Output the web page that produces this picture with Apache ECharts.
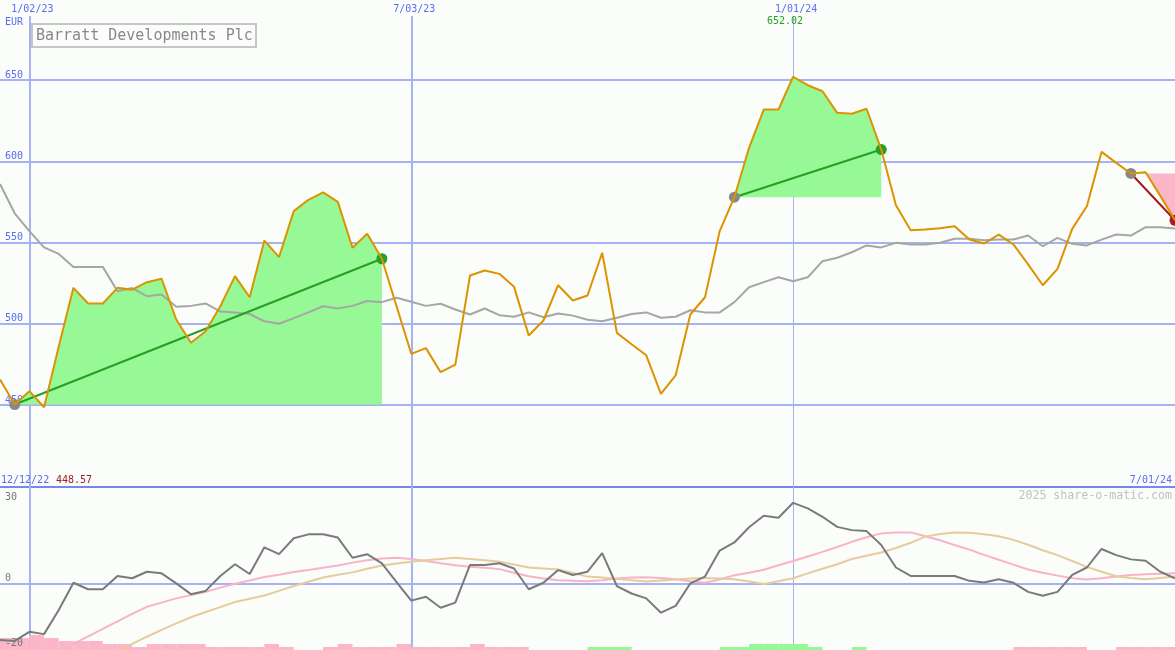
<!DOCTYPE html>
<html><head><meta charset="utf-8">
<script src="https://cdn.jsdelivr.net/npm/echarts@6/dist/echarts.min.js"></script>
<style>html,body{margin:0;padding:0;background:#fafdfa}#c{width:1175px;height:650px}</style>
</head><body><div id="c"></div>
<script>
// ---------- data ----------
const firstWeek = [2022, 11, 19];           // first weekly point (Mon 19 Dec 2022)
const weekCount = 81;
const tickWeeks = [2, 28];                    // 1/02/23, 7/03/23
const yearWeek = [54];                        // 1/01/24
const labelWeeks = [2, 28, 54];

const price = [465.7, 450.3, 458.5, 448.6, 486, 522.1, 512.5, 512.5, 522.1, 521,
  525.6, 527.7, 502.6, 488.3, 495.4, 510.8, 529.3, 516.3, 551.2, 541,
  569.3, 576.3, 580.8, 575, 546.8, 555.4, 540, 510.8, 481.5, 485,
  470.2, 474.9, 529.7, 532.8, 530.7, 522.7, 492.8, 502, 523.7, 514.3,
  517.4, 543.7, 494.4, 487.4, 480.6, 456.9, 468.2, 505.7, 516.3, 557,
  577.9, 608.3, 631.8, 631.8, 652.0, 646.8, 643.1, 629.8, 629.2, 632.3,
  607.2, 572.9, 557.6, 558, 558.8, 560, 551.8, 549.4, 554.9, 548.8,
  536.5, 523.7, 533.8, 558.4, 572.3, 605.8, 599, 592.5, 593.3, 578.7, 563.7];

const average = [586, 568, 557, 547, 543, 535, 535, 535, 520, 522,
  517, 518, 510.5, 511, 512.5, 507.5, 507, 506, 501.5, 500,
  503.5, 507, 510.8, 509.4, 511, 514, 513.3, 516, 513.5, 511,
  512.3, 508.8, 505.7, 509.4, 505.3, 504.3, 507, 504, 506.3, 505,
  502.5, 501.6, 503.7, 506, 507, 503.7, 504.3, 508.3, 507, 507,
  513.3, 522.5, 525.6, 528.6, 526.2, 528.6, 538.5, 540.6, 544, 548.2,
  547, 549.8, 548.8, 548.8, 549.8, 552.3, 552.3, 551.4, 551.8, 551.8,
  554.3, 547.7, 552.9, 549.2, 548.2, 551.8, 554.9, 554.3, 559.4, 559.4, 558.6];

const momentum = [-17.3, -17.6, -14.8, -15.5, -8.1, 0.3, -1.7, -1.7, 2.4, 1.7,
  3.7, 3.2, 0.1, -3.2, -2.2, 2.4, 6.0, 3.0, 11.2, 9.1,
  14.0, 15.2, 15.2, 14.2, 8.0, 9.1, 6.3, 0.5, -5.2, -4.0,
  -7.4, -5.8, 5.8, 5.8, 6.3, 4.7, -1.7, 0.3, 4.2, 2.7,
  3.7, 9.4, -0.7, -3.0, -4.5, -8.9, -6.8, 0.1, 2.2, 10.2,
  12.7, 17.4, 20.9, 20.3, 24.9, 23.2, 20.6, 17.5, 16.5, 16.2,
  11.9, 5.0, 2.4, 2.4, 2.4, 2.4, 0.9, 0.4, 1.4, 0.3,
  -2.5, -3.7, -2.5, 2.7, 5.0, 10.7, 8.8, 7.5, 7.1, 3.7, 1.7];

const fastSignal = [null, null, null, null, -21, -18.5, -16.2, -13.9, -11.6, -9.3,
  -7.1, -5.8, -4.5, -3.5, -2.5, -1.2, 0, 1.0, 2.1, 2.8,
  3.6, 4.2, 4.9, 5.6, 6.5, 7.2, 7.8, 8.0, 7.6, 7.0,
  6.3, 5.7, 5.2, 4.9, 4.5, 3.4, 2.3, 1.6, 1.1, 0.9,
  0.8, 1.1, 1.6, 1.9, 2.0, 1.8, 1.4, 0.8, 0.3, 1.3,
  2.6, 3.4, 4.3, 5.7, 7.0, 8.4, 9.8, 11.3, 12.9, 14.3,
  15.5, 15.8, 15.8, 14.6, 13.4, 11.9, 10.5, 8.9, 7.4, 5.9,
  4.4, 3.4, 2.5, 1.7, 1.3, 1.7, 2.2, 2.7, 2.9, 3.1, 3.2];

const slowSignal = [null, null, null, null, null, null, null, null, -20.8, -18.5,
  -16.3, -14.2, -12.2, -10.3, -8.7, -7.2, -5.6, -4.6, -3.6, -2.2,
  -0.7, 0.6, 1.9, 2.8, 3.5, 4.6, 5.6, 6.2, 6.8, 7.2,
  7.6, 8.0, 7.6, 7.2, 6.8, 5.9, 5.0, 4.7, 4.4, 3.3,
  2.2, 1.9, 1.5, 1.1, 0.7, 1.0, 1.3, 1.6, 1.8, 1.6,
  1.4, 0.7, -0.1, 0.8, 1.7, 3.2, 4.6, 6.0, 7.6, 8.6,
  9.6, 11.0, 12.6, 14.5, 15.3, 15.8, 15.7, 15.2, 14.6, 13.5,
  12.0, 10.3, 8.8, 7.0, 5.2, 3.7, 2.3, 1.8, 1.4, 1.8, 2.2];

// weekly strength blocks (negative = pink, positive = green), one per week interval
const strength = [-4, -4, -5, -4, -3, -3, -3, -2, -2, -1,
  -2, -2, -2, -2, -1, -1, -1, -1, -2, -1,
  0, 0, -1, -2, -1, -1, -1, -2, -1, -1,
  -1, -1, -2, -1, -1, -1, 0, 0, 0, 0,
  1, 1, 1, 0, 0, 0, 0, 0, 0, 1,
  1, 2, 2, 2, 2, 1, 0, 0, 1, 0,
  0, 0, 0, 0, 0, 0, 0, 0, 0, -1,
  -1, -1, -1, -1, 0, 0, -1, -1, -1, -1];

const regionStart = [1, 50, 77];
const regionEnd = [26, 60, 80];

const firstDateLabel = '12/12/22';
const priceLow = '448.57';
const priceHigh = '652.02';

// ---------- build ----------
const weeks = [];
for (let i = 0; i < weekCount; i++) {
  const d = new Date(Date.UTC(firstWeek[0], firstWeek[1], firstWeek[2] + 7 * i));
  weeks.push((d.getUTCMonth() + 1) + '/' + String(d.getUTCDate()).padStart(2, '0') + '/' + String(d.getUTCFullYear()).slice(2));
}
const bands = weeks.slice(0, weekCount - 1);

const MONO = "'DejaVu Sans Mono', 'Liberation Mono', monospace";
const BLUE = '#5a6cf0';
const GRIDC = '#a6b2f2';
const SEP = '#7586ec';
const GREEN_FILL = '#96f996';
const PINK_FILL = '#fbb6c8';
const T = 'rgba(0,0,0,0)';

function renderRegion(params, api) {
  const k = params.dataIndex;
  const s = regionStart[k], e = regionEnd[k];
  const base = price[s];
  const baseY = api.coord([s, base])[1];
  const P = j => api.coord([j, price[j]]);
  const children = [];
  let top = [P(s)], startX = P(s)[0], sign = 0;
  const close = (endX) => {
    const pts = [[startX, baseY]].concat(top, [[endX, baseY]]);
    children.push({ type: 'polygon', shape: { points: pts },
      style: { fill: sign >= 0 ? GREEN_FILL : PINK_FILL } });
  };
  for (let j = s; j < e; j++) {
    const d0 = price[j] - base, d1 = price[j + 1] - base;
    const a = P(j), b = P(j + 1);
    if (sign === 0) sign = Math.sign(d1 !== 0 ? d1 : d0);
    if (d0 * d1 < 0) {
      const t = d0 / (d0 - d1);
      const c = [a[0] + t * (b[0] - a[0]), baseY];
      top.push(c);
      close(c[0]);
      startX = c[0]; top = [c]; sign = Math.sign(d1);
      top.push(b);
    } else {
      top.push(b);
    }
  }
  close(P(e)[0]);
  return { type: 'group', children };
}

const trendSeries = regionStart.map((s, k) => {
  const e = regionEnd[k];
  const win = price[e] >= price[s];
  return {
    type: 'line', xAxisIndex: 0, yAxisIndex: 0, z: 4, symbol: 'none', silent: true,
    data: [[s, price[s]], [e, price[e]]],
    lineStyle: { color: win ? '#24a024' : '#a01c1c', width: 2 }
  };
});

const txt = (size, color) => ({ fontFamily: MONO, fontSize: size, fontWeight: 'normal', color });

const option = {
  backgroundColor: '#fafdfa',
  animation: false,
  title: [
    { text: 'Barratt Developments Plc', left: 32, top: 24, padding: [5, 4, 3, 4],
      borderColor: '#c6c6c6', borderWidth: 2, backgroundColor: '#fafdfa',
      textStyle: txt(15, '#888') },
    { text: 'EUR', left: 5, top: 17, padding: 0, textStyle: txt(10, BLUE) },
    { text: priceHigh, left: 767, top: 16, padding: 0, textStyle: txt(10, '#22a022') },
    { text: firstDateLabel, left: 1, top: 475, padding: 0, textStyle: txt(10, BLUE) },
    { text: priceLow, left: 56, top: 475, padding: 0, textStyle: txt(10, '#a02020') },
    { text: weeks[weekCount - 1], right: 3, top: 475, padding: 0, textStyle: txt(10, BLUE) },
    { text: '2025 share-o-matic.com', right: 3, top: 490, padding: 0, textStyle: txt(11.6, '#c2c2c2') }
  ],
  grid: [
    { left: 0, right: 0, top: 16, height: 470.25 },
    { left: 0, right: 0, top: 486.25, height: 162.5 },
    { left: 0, right: 0, bottom: 0, height: 30 }
  ],
  xAxis: [
    { type: 'category', gridIndex: 0, data: weeks, boundaryGap: false, position: 'top',
      axisLine: { show: false }, axisTick: { show: false },
      axisLabel: { interval: (i) => labelWeeks.includes(i), margin: 2, color: BLUE,
        fontFamily: MONO, fontSize: 10, padding: [0, 0, 0, 6] },
      splitLine: { show: true, interval: (i) => tickWeeks.includes(i), lineStyle: { color: GRIDC, width: 2 } } },
    { type: 'category', gridIndex: 0, data: weeks, boundaryGap: false,
      axisLine: { show: false }, axisTick: { show: false }, axisLabel: { show: false },
      splitLine: { show: true, interval: (i) => yearWeek.includes(i), lineStyle: { color: GRIDC, width: 1 } } },
    { type: 'category', gridIndex: 1, data: weeks, boundaryGap: false,
      axisLine: { show: false }, axisTick: { show: false }, axisLabel: { show: false },
      splitLine: { show: true, interval: (i) => tickWeeks.includes(i), lineStyle: { color: GRIDC, width: 2 } } },
    { type: 'category', gridIndex: 1, data: weeks, boundaryGap: false,
      axisLine: { show: false }, axisTick: { show: false }, axisLabel: { show: false },
      splitLine: { show: true, interval: (i) => yearWeek.includes(i), lineStyle: { color: GRIDC, width: 1 } } },
    { type: 'category', gridIndex: 2, data: bands, boundaryGap: true, show: false }
  ],
  yAxis: [
    { type: 'value', gridIndex: 0, min: 400, max: 689.4, interval: 50, position: 'left',
      axisLine: { show: false }, axisTick: { show: false },
      axisLabel: { inside: true, margin: 5, verticalAlign: 'bottom', color: BLUE, fontFamily: MONO, fontSize: 10,
        formatter: (v) => (v <= 400 || v > 680) ? '' : String(v) },
      splitLine: { show: true, lineStyle: { width: 2, color: [SEP, GRIDC, GRIDC, GRIDC, GRIDC, GRIDC, T] } } },
    { type: 'value', gridIndex: 1, min: -20, max: 30, interval: 20, position: 'left',
      axisLine: { show: false }, axisTick: { show: false }, axisLabel: { show: false },
      splitLine: { show: true, lineStyle: { width: 2, color: [T, GRIDC, T, SEP] } } },
    { type: 'value', gridIndex: 1, min: -20, max: 30, interval: 20, position: 'left', offset: 0, z: 10,
      axisLine: { show: false }, axisTick: { show: false }, splitLine: { show: false },
      axisLabel: { inside: true, margin: 5, verticalAlign: 'bottom', color: '#777', fontFamily: MONO, fontSize: 10,
        formatter: (v) => (v === -20 || v === 0) ? String(v) : '' } },
    { type: 'value', gridIndex: 1, min: -20, max: 30, interval: 50, position: 'left', offset: 0, z: 10,
      axisLine: { show: false }, axisTick: { show: false }, splitLine: { show: false },
      axisLabel: { inside: true, margin: 5, verticalAlign: 'top', padding: [6, 0, 0, 0], color: '#777', fontFamily: MONO, fontSize: 10,
        formatter: (v) => v === 30 ? '30' : '' } },
    { type: 'value', gridIndex: 2, min: 0, max: 10, show: false }
  ],
  series: [
    { type: 'custom', xAxisIndex: 0, yAxisIndex: 0, z: 1, silent: true, clip: true,
      renderItem: renderRegion,
      data: regionStart.map((s, k) => [s, regionEnd[k], price[s]]),
      encode: { x: [0, 1], y: 2 } },
    { type: 'line', xAxisIndex: 0, yAxisIndex: 0, z: 2, symbol: 'none', silent: true,
      data: average, lineStyle: { color: '#a6a6a6', width: 2 } },
    ...trendSeries,
    { type: 'scatter', xAxisIndex: 0, yAxisIndex: 0, z: 5, symbolSize: 11, silent: true,
      data: regionStart.map(s => [s, price[s]]), itemStyle: { color: '#888', opacity: 1 } },
    { type: 'scatter', xAxisIndex: 0, yAxisIndex: 0, z: 5, symbolSize: 11, silent: true,
      data: regionEnd.map((e, k) => ({ value: [e, price[e]],
        itemStyle: { color: price[e] >= price[regionStart[k]] ? '#24a024' : '#a81e1e' } })),
      itemStyle: { opacity: 1 } },
    { type: 'line', xAxisIndex: 0, yAxisIndex: 0, z: 6, symbol: 'none', silent: true,
      data: price, lineStyle: { color: '#dc9300', width: 2 } },

    { type: 'bar', xAxisIndex: 4, yAxisIndex: 4, z: 1, silent: true, barWidth: '100%',
      data: strength.map(v => ({ value: Math.abs(v), itemStyle: { color: v >= 0 ? GREEN_FILL : PINK_FILL } })) },
    { type: 'line', xAxisIndex: 2, yAxisIndex: 1, z: 2, symbol: 'none', silent: true,
      data: fastSignal, lineStyle: { color: '#f9b2c8', width: 2 } },
    { type: 'line', xAxisIndex: 2, yAxisIndex: 1, z: 2, symbol: 'none', silent: true,
      data: slowSignal, lineStyle: { color: '#e6cb9c', width: 2 } },
    { type: 'line', xAxisIndex: 2, yAxisIndex: 1, z: 3, symbol: 'none', silent: true,
      data: momentum, lineStyle: { color: '#7a7a7a', width: 2 } }
  ]
};

const chart = echarts.init(document.getElementById('c'), null, { renderer: 'canvas' });
chart.setOption(option);
</script>
</body></html>
